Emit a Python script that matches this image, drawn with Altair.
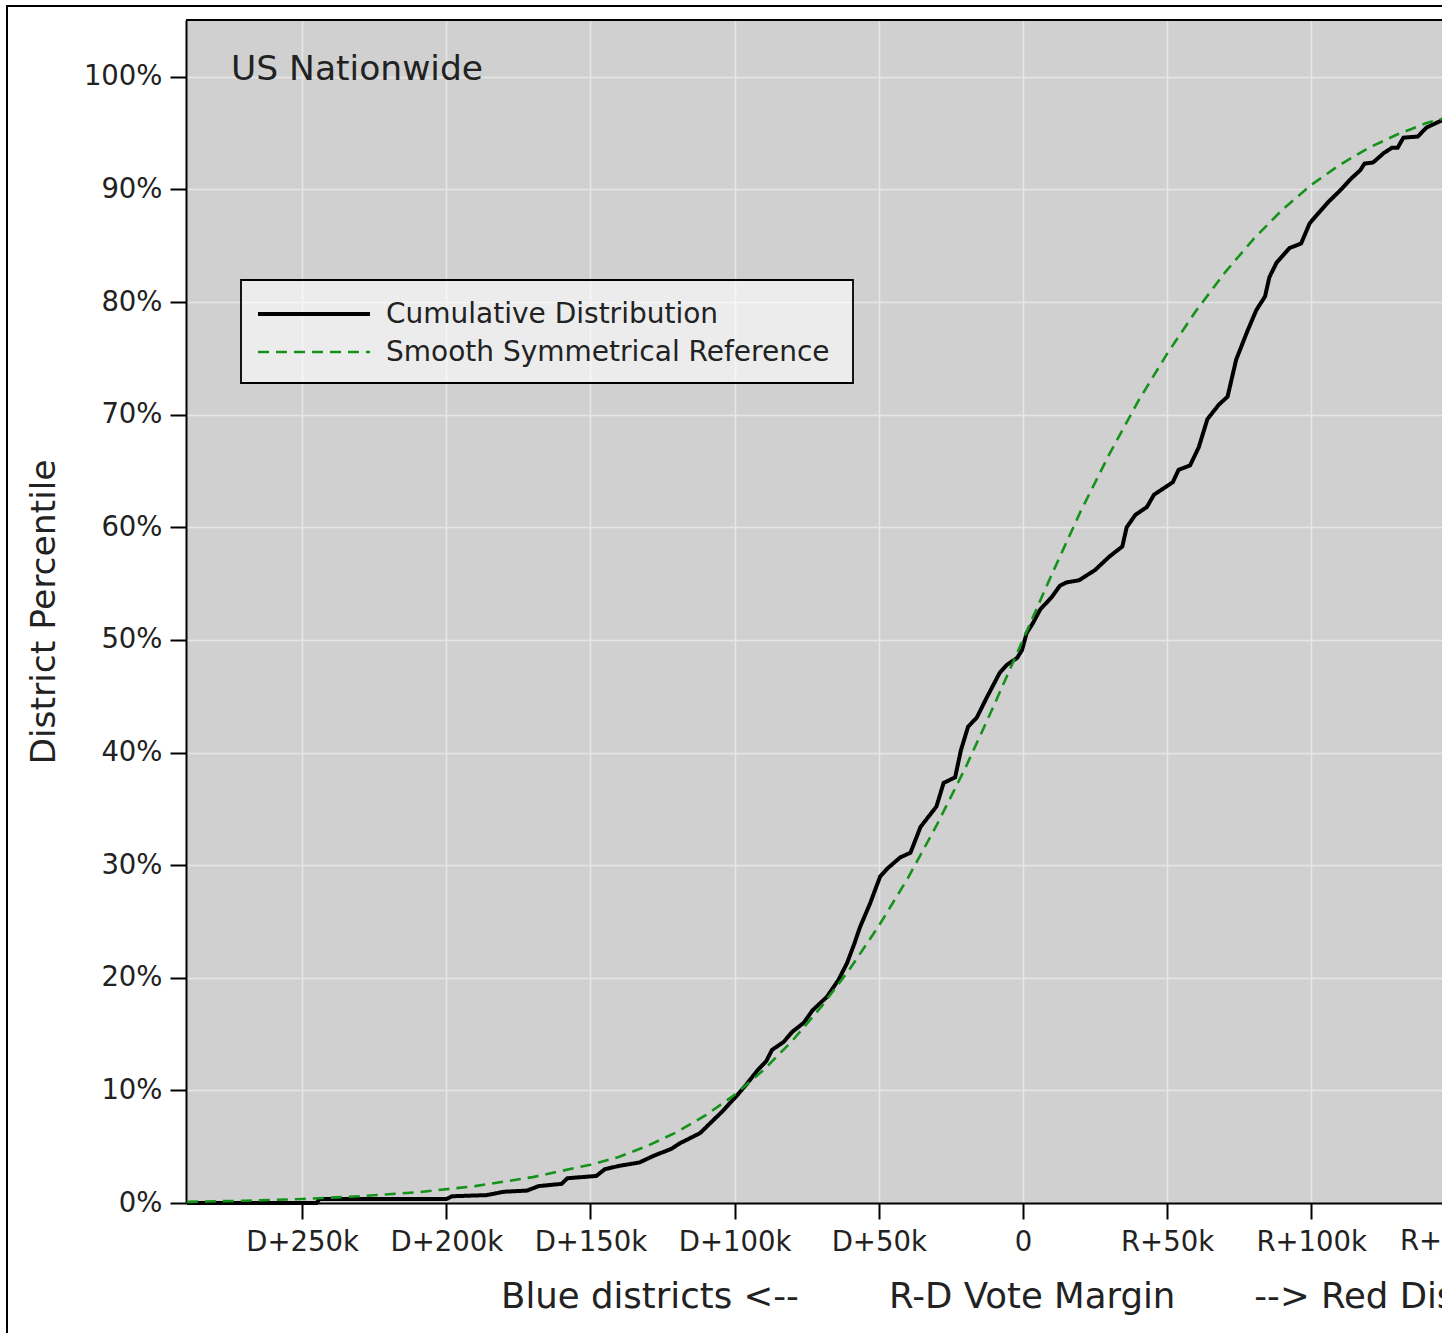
import altair as alt
import pandas as pd

# R-D vote margin (thousands of votes) and cumulative share of districts (%)
cdf_margin = [-290.0, -245, -244, -200, -198, -186, -180, -172, -168, -160,
              -158, -148, -145, -140, -133, -128, -122, -119, -112, -108,
              -104, -99, -96, -92, -89, -87, -83, -80, -76, -73,
              -68, -64, -61, -58.5, -56.5, -53, -49.5, -47, -42.5, -39,
              -35.5, -30, -27.5, -23.5, -21.5, -19, -16, -12.5, -8, -5.5,
              -2, -0.3, 1.3, 3.5, 6, 10, 12.8, 15, 19.5, 25,
              30, 34.5, 36, 39, 43, 45.5, 52, 54, 58, 61,
              64, 68, 71, 74, 78, 81, 84, 85.5, 88, 92.5,
              96.5, 99.5, 101.5, 106, 110, 114, 117, 118.5, 121.5, 125,
              128, 130, 132, 137, 140, 145, 155, 170, 190, 215,
              245]
cdf_share = [0, 0, 0.35, 0.35, 0.6, 0.7, 1.0, 1.1, 1.5, 1.7,
             2.2, 2.4, 3.0, 3.3, 3.6, 4.2, 4.8, 5.3, 6.2, 7.2,
             8.2, 9.6, 10.5, 11.8, 12.6, 13.6, 14.3, 15.2, 16.0, 17.1,
             18.3, 19.8, 21.3, 23.0, 24.5, 26.6, 29.0, 29.7, 30.7, 31.1,
             33.4, 35.2, 37.3, 37.8, 40.2, 42.3, 43.1, 44.9, 47.1, 47.8,
             48.4, 49.1, 50.6, 51.5, 52.7, 53.8, 54.8, 55.1, 55.3, 56.2,
             57.4, 58.3, 60.0, 61.1, 61.8, 62.9, 64.0, 65.1, 65.5, 67.1,
             69.6, 70.9, 71.6, 74.9, 77.5, 79.3, 80.5, 82.2, 83.5, 84.8,
             85.2, 87.0, 87.6, 88.9, 89.9, 91.0, 91.7, 92.3, 92.4, 93.2,
             93.7, 93.7, 94.6, 94.7, 95.5, 96.1, 97.2, 98.3, 99.1, 99.7,
             100]

# Smooth symmetrical reference curve
ref_margin = [-290, -270, -250, -230, -210, -190, -170, -150, -140, -130,
              -120, -110, -100, -90, -80, -70, -60, -50, -40, -30,
              -20, -10, 0, 10, 20, 30, 40, 50, 60, 70,
              80, 90, 100, 110, 120, 130, 140, 150, 170, 190,
              210, 230, 250, 270, 290]
ref_share = [0.1, 0.2, 0.35, 0.6, 0.95, 1.5, 2.3, 3.4, 4.1, 5.1,
             6.3, 7.8, 9.6, 11.8, 14.4, 17.4, 20.8, 24.6, 28.8, 33.5,
             38.6, 44.2, 50, 55.8, 61.4, 66.5, 71.2, 75.4, 79.2, 82.6,
             85.6, 88.2, 90.4, 92.2, 93.7, 94.9, 95.9, 96.6, 97.7, 98.5,
             99.05, 99.4, 99.65, 99.8, 99.9]

series_names = ["Cumulative Distribution", "Smooth Symmetrical Reference"]
series_colors = ["#000000", "#15921a"]
x_tick_values = [-250, -200, -150, -100, -50, 0, 50, 100, 150, 200, 250]
y_tick_values = [0, 10, 20, 30, 40, 50, 60, 70, 80, 90, 100]
panel_label = "US Nationwide"

NB = "\u00a0"
x_title = "Blue districts <--" + NB * 8 + "R-D Vote Margin" + NB * 7 + "--> Red Districts"

# The figure is a window onto the left part of a symmetric +-290k axis:
# the plot area runs from D+290k to about R+145k at the page's right edge.
PX_PER_K = 144.14 / 50.0
W, H = 1256, 1183
X_MIN = -290.3
X_MAX = X_MIN + W / PX_PER_K
ZERO_PX = -X_MIN * PX_PER_K

FONT = "DejaVu Sans"
TEXT = "#222222"
TICK_LEN, LABEL_PAD = 16, 9


def margin_label(v):
    if v == 0:
        return "0"
    return ("D+" if v < 0 else "R+") + f"{abs(v)}k"


rows = []
for i, (m, s) in enumerate(zip(cdf_margin, cdf_share)):
    rows.append({"margin": m, "share": s, "series": series_names[0], "idx": i})
for i, (m, s) in enumerate(zip(ref_margin, ref_share)):
    rows.append({"margin": m, "share": s, "series": series_names[1], "idx": i})
df = pd.DataFrame(rows)

x_scale = alt.Scale(domain=[X_MIN, X_MAX], nice=False, zero=False)

x_enc = alt.X(
    "margin:Q",
    scale=x_scale,
    axis=alt.Axis(
        values=x_tick_values,
        labelExpr="datum.value == 0 ? '0' : (datum.value < 0 ? 'D+' : 'R+') + abs(datum.value) + 'k'",
        title=x_title,
        titleX=ZERO_PX,
        titleAlign="center",
        titleFontSize=35.5,
        labelFlush=False,
        labelOverlap=False,
        labelPadding=LABEL_PAD,
        titlePadding=24,
    ),
)
y_enc = alt.Y(
    "share:Q",
    scale=alt.Scale(domain=[0, 105.05], nice=False, zero=False),
    axis=alt.Axis(
        values=y_tick_values,
        labelExpr="datum.value + '%'",
        title="District Percentile",
        labelPadding=8,
        titlePadding=22,
    ),
)

lines = alt.Chart(df).mark_line(interpolate="linear").encode(
    x=x_enc,
    y=y_enc,
    order="idx:Q",
    color=alt.Color("series:N", scale=alt.Scale(domain=series_names, range=series_colors), legend=None),
    strokeDash=alt.StrokeDash(
        "series:N", scale=alt.Scale(domain=series_names, range=[[1, 0], [11, 7]]), legend=None
    ),
    strokeWidth=alt.StrokeWidth(
        "series:N", scale=alt.Scale(domain=series_names, range=[4, 2.6]), legend=None
    ),
)

# tick labels that sit past the right edge of the visible axis (only partly shown)
outer_ticks = pd.DataFrame({
    "margin": [v for v in x_tick_values if v > X_MAX],
    "label": [margin_label(v) for v in x_tick_values if v > X_MAX],
})
outer_tick_labels = alt.Chart(outer_ticks).mark_text(
    align="center", baseline="top", font=FONT, fontSize=27.5, color=TEXT
).encode(
    x=alt.X("margin:Q", scale=x_scale),
    y=alt.value(H + TICK_LEN + LABEL_PAD),
    text="label:N",
)

one = pd.DataFrame({"label": [panel_label]})

panel_text = alt.Chart(one).mark_text(
    align="left", baseline="alphabetic", font=FONT, fontSize=34.5, color=TEXT
).encode(text="label:N", x=alt.value(45), y=alt.value(60))

# plot border along the top edge
top_border = alt.Chart(one).mark_rule(color="#000000", strokeWidth=2).encode(
    x=alt.value(0), x2=alt.value(W + 20), y=alt.value(0)
)

# outer figure frame (left and top sides fall inside the page)
frame_left = alt.Chart(one).mark_rule(color="#000000", strokeWidth=2).encode(
    x=alt.value(-179), y=alt.value(-15), y2=alt.value(H + 150)
)
frame_top = alt.Chart(one).mark_rule(color="#000000", strokeWidth=2).encode(
    x=alt.value(-180), x2=alt.value(W + 20), y=alt.value(-14)
)

# legend box
legend_df = pd.DataFrame({
    "series": series_names,
    "row_y": [295, 333],
})
legend_box = alt.Chart(one).mark_rect(
    fill="#ffffff", fillOpacity=0.6, stroke="#000000", strokeWidth=1.8
).encode(x=alt.value(55), x2=alt.value(667), y=alt.value(260), y2=alt.value(363))

legend_solid = alt.Chart(one).mark_rule(color=series_colors[0], strokeWidth=4).encode(
    x=alt.value(72), x2=alt.value(184), y=alt.value(294)
)
legend_dash = alt.Chart(one).mark_rule(
    color=series_colors[1], strokeWidth=2.6, strokeDash=[11, 7]
).encode(x=alt.value(72), x2=alt.value(184), y=alt.value(332))

legend_text = alt.Chart(legend_df).mark_text(
    align="left", baseline="middle", font=FONT, fontSize=28, color=TEXT
).encode(text="series:N", x=alt.value(200), y=alt.Y("row_y:Q", scale=None))

chart = alt.layer(
    lines, outer_tick_labels, top_border, panel_text, legend_box, legend_solid,
    legend_dash, legend_text, frame_left, frame_top,
).properties(
    width=W,
    height=H,
    autosize=alt.AutoSizeParams(type="none"),
    padding={"left": 186, "top": 20, "right": 0, "bottom": 130},
    background="#ffffff",
).configure_view(
    fill="#d0d0d0", strokeWidth=0
).configure_axis(
    domainColor="#000000",
    domainWidth=2,
    tickColor="#000000",
    tickWidth=2,
    tickSize=TICK_LEN,
    gridColor="#e6e6e6",
    gridWidth=1.5,
    labelFont=FONT,
    labelFontSize=27.5,
    labelColor=TEXT,
    titleFont=FONT,
    titleFontSize=34.5,
    titleFontWeight="normal",
    titleColor=TEXT,
)

chart.save("out.html", embed_options={"renderer": "svg", "actions": False})
